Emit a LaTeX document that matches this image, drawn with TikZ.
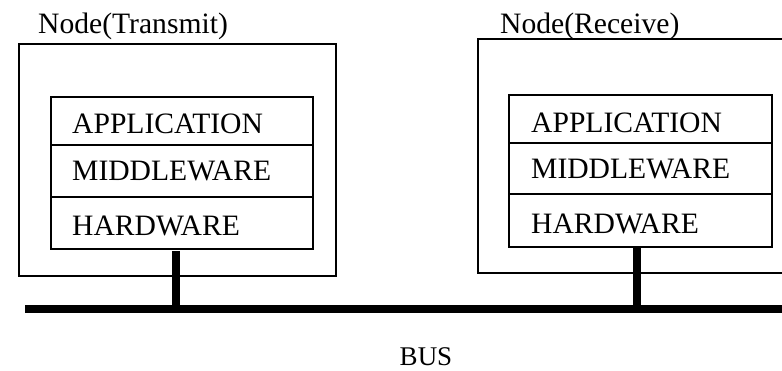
\documentclass[tikz,border=0pt]{standalone}
\usepackage{fontspec}
\setmainfont{Liberation Serif}
\begin{document}
\begin{tikzpicture}[x=1pt,y=-1pt,
  frame/.style={draw, line width=1.6pt, inner sep=0pt, anchor=north west},
  layer/.style={draw, line width=1.6pt, inner sep=0pt, anchor=north west, minimum width=262pt},
  txt/.style={font=\fontsize{29.6}{32}\selectfont, inner sep=0pt, anchor=base west},
  wire/.style={line width=8pt}]
\clip (0,0) rectangle (782,370);
\useasboundingbox (0,0) rectangle (782,370);

% transmitting node
\node[frame, minimum width=317pt, minimum height=232pt] (tnode) at (18,43) {};
\node[txt] (tlabel) at (38,33) {Node(Transmit)};
\node[layer, minimum height=48pt] (tapp) at (50,96) {};
\node[layer, minimum height=52pt] (tmid) at (50,144) {};
\node[layer, minimum height=52pt] (thw)  at (50,196) {};
\node[txt] (tapptxt) at (72,133) {APPLICATION};
\node[txt] (tmidtxt) at (72,180) {MIDDLEWARE};
\node[txt] (thwtxt)  at (72,235) {HARDWARE};

% receiving node (runs past the right edge)
\node[frame, minimum width=330pt, minimum height=234pt] (rnode) at (477,38) {};
\node[txt] (rlabel) at (500,33) {Node(Receive)};
\node[layer, minimum width=263pt, minimum height=48pt] (rapp) at (508,94) {};
\node[layer, minimum width=263pt, minimum height=51pt] (rmid) at (508,142) {};
\node[layer, minimum width=263pt, minimum height=53pt] (rhw)  at (508,193) {};
\node[txt] (rapptxt) at (531,132) {APPLICATION};
\node[txt] (rmidtxt) at (531,178) {MIDDLEWARE};
\node[txt] (rhwtxt)  at (531,233) {HARDWARE};

% bus and its taps
\coordinate (busL) at (25,309);
\coordinate (busR) at (790,309);
\draw[wire] (busL) -- (busR);
\coordinate (ttap) at (176,251);
\coordinate (tbus) at (176,309);
\coordinate (rtap) at (637,246);
\coordinate (rbus) at (637,309);
\draw[wire] (ttap) -- (tbus);
\draw[wire] (rtap) -- (rbus);

\node[font=\fontsize{27}{30}\selectfont, inner sep=0pt, anchor=base] (bus) at (426,365) {BUS};
\end{tikzpicture}
\end{document}
